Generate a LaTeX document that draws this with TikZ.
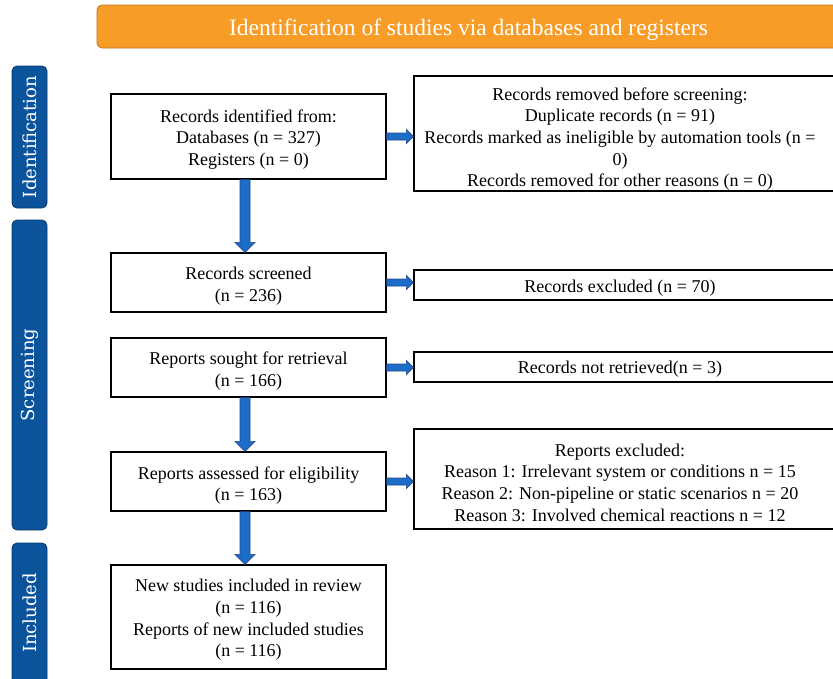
\documentclass[tikz,border=0pt]{standalone}
\usepackage{fontspec}
\setmainfont{Liberation Serif}
\newfontfamily\labfont{DejaVu Serif}
\usetikzlibrary{calc,shadows}
\definecolor{hdrfill}{RGB}{248,156,40}
\definecolor{hdrline}{RGB}{190,115,30}
\definecolor{labfill}{RGB}{11,84,155}
\definecolor{labline}{RGB}{8,58,110}
\definecolor{arrfill}{RGB}{28,108,200}
\definecolor{arrline}{RGB}{32,72,140}
\tikzset{
  box/.style={draw=black, line width=1.2pt, fill=white, inner sep=0pt,
    drop shadow={shadow xshift=1.2pt, shadow yshift=-1.2pt, fill=black!35, opacity=1}},
  btext/.style={inner sep=0pt, align=center, font=\fontsize{18}{21.7}\selectfont},
  sidelab/.style={draw=labline, fill=labfill, rounded corners=5pt, line width=0.8pt, inner sep=0pt},
  sidetext/.style={text=white, rotate=90, inner sep=0pt, font=\labfont\fontsize{18}{20}\selectfont},
  hdrbox/.style={draw=hdrline, fill=hdrfill, rounded corners=5pt, line width=0.8pt, inner sep=0pt},
  hdrtext/.style={text=white, inner sep=0pt, font=\fontsize{23.5}{26}\selectfont},
  blockarrow/.style={fill=arrfill, draw=arrline, line width=0.6pt, line join=miter},
}
\newcommand\vblk[2]{\draw[blockarrow] let \p1=(#1.south), \p2=(#2.north) in
  (\x1-8.5pt,\y1) -- (\x1-8.5pt,\y2+10pt) -- (\x1-13.5pt,\y2+10pt) -- (\x1-3.5pt,\y2) --
  (\x1+6.5pt,\y2+10pt) -- (\x1+1.5pt,\y2+10pt) -- (\x1+1.5pt,\y1) -- cycle;}
\newcommand\hblk[2]{\draw[blockarrow] let \p1=(#1.east), \p2=(#2.west) in
  (\x1,\y1+3.5pt) -- (\x2-7pt,\y1+3.5pt) -- (\x2-7pt,\y1+7pt) -- (\x2,\y1) --
  (\x2-7pt,\y1-7pt) -- (\x2-7pt,\y1-3.5pt) -- (\x1,\y1-3.5pt) -- cycle;}
\begin{document}
\begin{tikzpicture}[x=1pt,y=-1pt]
\useasboundingbox (0,0) rectangle (833,678);
\clip (0,0) rectangle (833,678);
\fill[white] (0,0) rectangle (833,678);

% header
\node[hdrbox, minimum width=763pt, minimum height=43pt] (hdr) at (478.5,26.5) {};
\node[hdrtext] (hdrt) at (468.5,29.5) {Identification of studies via databases and registers};

% side labels
\node[sidelab, minimum width=35pt, minimum height=142pt] (l1) at (29.5,137) {};
\node[sidetext] (l1t) at (l1.center) {Identification};
\node[sidelab, minimum width=35pt, minimum height=310pt] (l2) at (29.5,375) {};
\node[sidetext] (l2t) at (l2.center) {Screening};
\node[sidelab, minimum width=35pt, minimum height=157pt] (l3) at (29.5,621.5) {};
\node[sidetext] (l3t) at (29.5,613) {Included};

% left column
\node[box, minimum width=275pt, minimum height=85pt] (b1) at (248.5,136.5) {};
\node[btext] (b1t) at (248.5,139.5) {Records identified from:\\Databases (n = 327)\\Registers (n = 0)};
\node[box, minimum width=275pt, minimum height=59pt] (b2) at (248.5,282.5) {};
\node[btext] (b2t) at (248.5,286.5) {Records screened\\(n = 236)};
\node[box, minimum width=275pt, minimum height=59pt] (b3) at (248.5,367.5) {};
\node[btext] (b3t) at (248.5,371) {Reports sought for retrieval\\(n = 166)};
\node[box, minimum width=275pt, minimum height=59pt] (b4) at (248.5,481.5) {};
\node[btext] (b4t) at (248.5,485.5) {Reports assessed for eligibility\\(n = 163)};
\node[box, minimum width=275pt, minimum height=104pt] (b5) at (248.5,617) {};
\node[btext] (b5t) at (248.5,620)
  {New studies included in review\\(n = 116)\\Reports of new included studies\\(n = 116)};

% right column
\node[box, minimum width=456pt, minimum height=115pt] (r1) at (642,133.5) {};
\node[btext] (r1t) at (620,139)
  {Records removed before screening:\\Duplicate records (n = 91)\\Records marked as ineligible by automation tools (n =\\0)\\Records removed for other reasons (n = 0)};
\node[box, minimum width=456pt, minimum height=30pt] (r2) at (642,285) {};
\node[btext] (r2t) at (620,288) {Records excluded (n = 70)};
\node[box, minimum width=456pt, minimum height=30pt] (r3) at (642,367) {};
\node[btext] (r3t) at (620,369) {Records not retrieved(n = 3)};
\node[box, minimum width=456pt, minimum height=100pt] (r4) at (642,479) {};
\node[btext] (r4t) at (620,482.5)
  {Reports excluded:\\Reason 1: Irrelevant system or conditions n = 15\\Reason 2: Non-pipeline or static scenarios n = 20\\Reason 3: Involved chemical reactions n = 12};

% arrows
\vblk{b1}{b2}
\vblk{b3}{b4}
\vblk{b4}{b5}
\hblk{b1}{r1}
\hblk{b2}{r2}
\hblk{b3}{r3}
\hblk{b4}{r4}
\end{tikzpicture}
\end{document}
